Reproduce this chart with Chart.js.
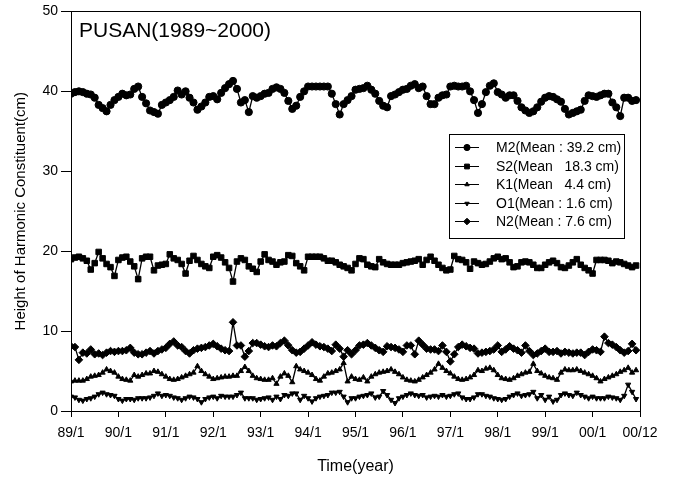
<!DOCTYPE html>
<html>

<head>
    <title>PUSAN Harmonic Constituents</title>

    <style>
        body {
            margin: 0;
            background: #fff;
        }

        #box {
            width: 674px;
            height: 483px;
        }
    </style>
</head>

<body>
    <div id="box">
        <canvas id="tideChart"></canvas>
    </div>

    <script src="https://cdn.jsdelivr.net/npm/chart.js"></script>

    <script>
        // tick labels, one every 12 months
        const yearLabels = ["89/1", "90/1", "91/1", "92/1", "93/1", "94/1", "95/1", "96/1", "97/1", "98/1", "99/1", "00/1", "00/12"];

        const seriesNames = ["M2(Mean : 39.2 cm)", "S2(Mean   18.3 cm)", "K1(Mean   4.4 cm)", "O1(Mean : 1.6 cm)", "N2(Mean : 7.6 cm)"];

        // monthly amplitudes (cm), 89/1 .. 00/12
        const m2 = [39.7, 39.9, 40.0, 39.9, 39.7, 39.6, 39.2, 38.3, 37.9, 37.5, 38.3, 38.9, 39.3, 39.7, 39.5, 39.6, 40.3, 40.6, 39.3, 38.5, 37.6,
            37.4, 37.2, 38.3, 38.6, 38.9, 39.3, 40.1, 39.6, 40.0, 39.2, 38.6, 37.7, 38.1, 38.6, 39.3, 39.4, 39.0, 39.8, 40.4, 40.9, 41.3, 40.3, 38.6, 38.9, 37.4, 39.4, 39.2, 39.4, 39.7, 39.8,
            40.3, 40.5, 40.3, 39.8, 38.8, 37.8, 38.2, 39.3, 40.0, 40.6, 40.6, 40.6,
            40.6, 40.6, 40.6, 39.7, 38.4, 37.1, 38.4, 38.9, 39.4, 40.2, 40.3, 40.4, 40.7, 40.2, 39.7, 38.8, 38.2, 38.0, 39.4, 39.6, 39.9, 40.2, 40.3, 40.7, 40.9, 40.4, 40.6, 39.4, 38.4, 38.4, 39.2, 39.5, 39.6, 40.6, 40.7, 40.6, 40.6, 40.7, 40.0, 38.9,
            37.3, 38.4, 39.9, 40.7, 41.0, 39.9, 39.6, 39.2, 39.5, 39.5, 38.8, 38.0, 37.6, 37.3, 37.5, 38.0, 38.7, 39.2, 39.4, 39.3, 39.0, 38.7, 37.8, 37.1, 37.3, 37.5, 37.7, 38.8, 39.5, 39.4, 39.3, 39.5, 39.7, 39.7, 38.6, 38.0, 36.9, 39.2, 39.2, 38.8, 38.9];

        const s2 = [19.0, 19.2, 19.3, 19.1, 18.8, 17.7, 18.5, 19.9, 19.1, 18.4, 18.0, 16.9, 18.9, 19.2, 19.3, 18.7, 18.1, 16.5, 19.1, 19.3, 19.3, 17.6, 18.2, 18.3, 18.4, 19.6, 19.1, 18.9, 18.4, 17.2, 18.8, 19.4, 18.9, 18.4, 18.1, 17.9, 19.3, 19.5, 19.2, 18.6, 17.9, 16.2, 18.7, 19.1, 18.9, 18.1, 17.8, 17.4, 18.7, 19.6, 18.9, 18.7, 18.3,
            18.6, 18.7, 19.5, 19.4, 18.5, 18.1, 17.6, 19.3, 19.3, 19.3, 19.3, 19.1, 18.8, 18.8, 18.6, 18.3, 18.1, 17.9, 17.6, 18.4, 19.1, 19.0, 18.3, 18.1, 18.0, 19.0, 18.6, 18.4, 18.3, 18.3, 18.3, 18.5, 18.6, 18.7, 18.8, 19.0, 18.3, 18.9, 19.3, 18.8, 18.3, 17.9, 17.6, 17.7, 19.4, 19.0, 18.9, 18.6, 17.8, 18.7, 18.5,
            18.3, 18.4, 18.7, 19.1, 19.3, 19.0, 19.1, 18.6, 18.0, 18.1, 18.6, 18.7, 18.6, 18.3, 17.9, 17.9, 18.3, 18.6, 18.8, 18.5, 18.0, 17.9, 18.2, 18.6, 19.0, 18.3, 17.9, 17.6, 17.2, 18.9, 18.9, 18.9, 18.8, 18.5, 18.7, 18.6, 18.4, 18.2, 18.0, 18.2];

        const k1 = [3.7, 3.8, 3.8, 3.8, 4.0, 4.3, 4.4, 4.5, 4.8, 5.2, 5.0, 4.8, 4.3, 4.0, 3.9, 3.8, 4.5, 4.3, 4.5, 4.7, 4.7, 5.0, 4.9, 4.6, 4.3, 4.0, 3.9, 4.0, 4.2, 4.4, 4.6, 4.8, 5.6, 5.0, 4.6, 4.3, 4.0, 4.1, 4.2, 4.3, 4.3, 4.4, 4.4, 5.0, 5.5, 5.0, 4.4, 4.1, 4.0, 3.9, 3.9, 4.1, 3.4,
            4.3, 4.7, 4.4, 3.6, 5.6, 5.2, 5.0, 4.8, 4.5, 4.0, 3.8, 4.3, 4.7, 4.8, 5.0, 5.2, 6.0, 3.7, 4.3, 4.0, 3.9, 4.2, 3.7, 4.3, 4.6, 4.8, 4.9, 5.0, 5.2, 4.9, 4.6, 4.2, 3.9, 3.8, 3.7, 3.9, 4.2, 4.5, 4.8, 5.2, 5.9, 5.4, 5.0, 4.7, 4.3, 4.0, 3.9, 4.0, 4.2, 4.5, 5.1,
            5.0, 5.3, 5.4, 5.1, 4.5, 4.1, 4.0, 3.9, 4.1, 4.4, 4.6, 4.8, 4.9, 5.9, 5.0, 4.7, 4.4, 4.2, 4.1, 3.9, 4.8, 5.2, 5.1, 5.1, 5.2, 5.0, 4.8, 4.6, 4.4, 4.1, 3.7, 4.0, 4.2, 4.4, 4.6, 4.9, 5.1, 5.4, 4.8, 5.1];

        const o1 = [1.8, 1.7, 1.4, 1.3, 1.5, 1.6, 1.8, 2.1, 2.3, 2.1, 2.0, 1.9, 1.5, 1.3, 1.5, 1.5, 1.4, 1.6, 1.6, 1.6, 1.7, 1.9, 2.2, 1.9, 2.0, 1.9, 1.7, 1.6, 1.4, 1.6, 1.8, 1.7, 1.5, 1.1, 1.5, 1.7, 1.8, 1.6, 1.9, 1.8, 1.8, 1.8, 2.0, 2.3, 1.6, 1.6, 1.6, 1.4, 1.5, 1.6, 1.7, 1.4, 1.8,
            1.5, 2.0, 1.9, 2.2, 2.2, 1.4, 1.9, 1.6, 1.2, 1.6, 1.8, 1.9, 2.0, 2.3, 2.3, 2.4, 1.8, 1.1, 1.6, 1.6, 1.8, 1.9, 2.0, 2.2, 1.7, 1.8, 2.5, 2.0, 1.4, 1.0, 1.6, 1.8, 2.0, 2.2, 2.0, 1.9, 2.0, 1.7, 1.8, 1.9, 1.8, 2.0, 1.8, 1.9, 2.1, 2.2, 1.7, 1.5, 1.5, 1.7, 2.1,
            2.1, 1.9, 1.8, 1.6, 1.5, 1.4, 1.5, 1.8, 2.0, 2.2, 1.9, 2.0, 2.1, 2.4, 1.6, 2.0, 1.4, 1.8, 1.2, 1.4, 2.0, 2.2, 2.0, 1.9, 2.3, 2.0, 1.8, 1.6, 1.8, 1.6, 1.6, 1.6, 1.8, 1.7, 1.6, 1.4, 1.9, 3.3, 2.4, 1.5];

        const n2 = [8.1, 8.0, 6.4, 7.3, 7.2, 7.7, 7.1, 7.2, 7.0, 7.3, 7.5, 7.4, 7.5, 7.5, 7.6, 7.9, 7.3, 7.1, 7.1, 7.3, 7.5, 7.2, 7.5, 7.7, 7.9, 8.4, 8.7, 8.2, 8.0, 7.5, 7.2, 7.6, 7.8, 7.9, 8.0, 8.2, 8.4, 8.1, 7.8, 7.6, 7.5, 11.1, 8.2, 8.2, 6.8, 7.5, 8.5, 8.5, 8.3, 8.1, 8.0, 8.2, 8.1,
            8.5, 8.8, 8.2, 7.6, 7.3, 7.4, 7.8, 8.2, 8.6, 8.3, 8.1, 8.0, 7.8, 7.5, 8.3, 7.8, 6.8, 7.6, 7.1, 7.6, 8.2, 8.3, 8.5, 8.2, 7.9, 7.6, 7.4, 8.1, 8.0, 7.9, 7.7, 7.4, 8.2, 8.2, 7.1, 8.8, 8.3, 7.8, 7.7, 7.7, 7.5, 8.2, 7.4, 6.2, 7.1, 8.0, 8.3, 8.1, 7.9, 7.8, 7.2,
            7.3, 7.4, 7.5, 7.7, 8.2, 7.4, 7.7, 8.1, 7.8, 7.6, 7.3, 8.2, 7.5, 7.0, 7.2, 7.5, 7.8, 7.4, 7.4, 7.5, 7.2, 7.4, 7.3, 7.2, 7.3, 7.3, 7.0, 7.4, 7.7, 7.6, 7.4, 9.3, 8.5, 8.3, 8.0, 7.6, 7.3, 7.5, 8.4, 7.6];

        const FONT = '"Liberation Sans", Arial, sans-serif';
        Chart.defaults.font.family = FONT;
        Chart.defaults.color = '#000';

        function toPoints(arr) {
            return arr.map((v, i) => ({ x: i, y: v }));
        }

        function series(label, values, style, radius, rotation) {
            return {
                label: label,
                data: toPoints(values),
                borderColor: '#000',
                backgroundColor: '#000',
                borderWidth: 1.3,
                pointStyle: style,
                pointRadius: radius,
                pointRotation: rotation || 0,
                pointBackgroundColor: '#000',
                pointBorderColor: '#000',
                pointBorderWidth: 1,
                tension: 0
            };
        }

        // frame around the plot, title text, boxed legend
        const framePlugin = {
            id: 'framePlugin',
            afterDraw(chart) {
                const { ctx, chartArea: a } = chart;
                ctx.save();
                ctx.strokeStyle = '#000';
                ctx.lineWidth = 1;
                ctx.strokeRect(Math.round(a.left) + 0.5, Math.round(a.top) + 0.5, Math.round(a.right - a.left), Math.round(a.bottom - a.top));

                ctx.fillStyle = '#000';
                ctx.font = '21px ' + FONT;
                ctx.textBaseline = 'alphabetic';
                ctx.fillText('PUSAN(1989~2000)', a.left + 8, 37);

                ctx.strokeRect(449.5, 134.5, 175, 104);
                ctx.font = '14px ' + FONT;
                ctx.textBaseline = 'middle';
                chart.data.datasets.forEach((ds, i) => {
                    const y = Math.round(147 + i * 18.5) + 0.5;
                    ctx.beginPath();
                    ctx.moveTo(455, y);
                    ctx.lineTo(479, y);
                    ctx.stroke();
                    Chart.helpers.drawPoint(ctx, {
                        pointStyle: ds.pointStyle,
                        radius: ds.pointRadius - 0.5,
                        rotation: ds.pointRotation,
                        borderWidth: 1
                    }, 467, y);
                    ctx.fillText(ds.label, 496, y + 1);
                });
                ctx.restore();
            }
        };

        new Chart(document.getElementById('tideChart'), {
            type: 'line',
            data: {
                datasets: [
                    series(seriesNames[0], m2, 'circle', 3.6),
                    series(seriesNames[1], s2, 'rect', 3.9),
                    series(seriesNames[2], k1, 'triangle', 3),
                    series(seriesNames[3], o1, 'triangle', 3, 180),
                    series(seriesNames[4], n2, 'rectRot', 3.8)
                ]
            },
            options: {
                responsive: true,
                maintainAspectRatio: false,
                animation: false,
                layout: { padding: { top: 10, right: 34, left: 0, bottom: 0 } },
                plugins: {
                    legend: { display: false },
                    tooltip: { enabled: false }
                },
                scales: {
                    x: {
                        type: 'linear',
                        min: 0,
                        max: 144,
                        afterBuildTicks: (scale) => {
                            scale.ticks = yearLabels.map((l, i) => ({ value: i * 12 }));
                        },
                        afterFit: (scale) => { scale.height = 72; },
                        ticks: {
                            autoSkip: false,
                            maxRotation: 0,
                            padding: 8,
                            font: { size: 14 },
                            callback: (v, i) => yearLabels[i]
                        },
                        grid: { drawOnChartArea: false, drawTicks: true, tickLength: 6, color: '#000' },
                        border: { display: true, color: '#000', width: 1 },
                        title: {
                            display: true,
                            text: 'Time(year)',
                            font: { size: 16 },
                            padding: { top: 0, bottom: 7 }
                        }
                    },
                    y: {
                        min: 0,
                        max: 50,
                        afterFit: (scale) => { scale.width = 71; },
                        ticks: {
                            stepSize: 10,
                            padding: 3,
                            font: { size: 14 }
                        },
                        grid: { drawOnChartArea: false, drawTicks: true, tickLength: 10, color: '#000' },
                        border: { display: true, color: '#000', width: 1 },
                        title: {
                            display: true,
                            text: 'Height of Harmonic Constituent(cm)',
                            font: { size: 15 },
                            padding: { top: 12, bottom: 0 }
                        }
                    }
                }
            },
            plugins: [framePlugin]
        });
    </script>

</body>

</html>
